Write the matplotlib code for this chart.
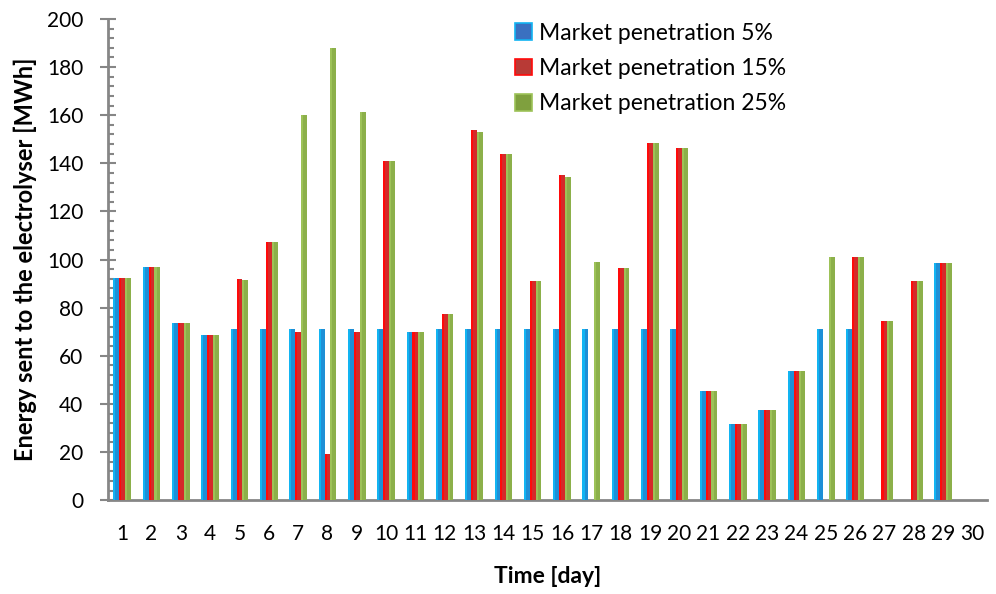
import numpy as np
import matplotlib
matplotlib.use("Agg")
from matplotlib import pyplot as plt
from matplotlib.patches import Patch
from matplotlib.ticker import MultipleLocator

days = list(range(1, 31))
pen_5 = [92.5, 97, 73.5, 68.5, 71, 71, 71, 71, 71, 71,
         70, 71, 71, 71, 71, 71, 71, 71, 71, 71,
         45.5, 31.5, 37.5, 53.5, 71, 71, 0, 0, 98.5, 0]
pen_15 = [92.5, 97, 73.5, 68.5, 92, 107.5, 70, 19, 70, 141,
          70, 77.5, 154, 144, 91, 135, 0, 96.5, 148.5, 146.5,
          45.5, 31.5, 37.5, 53.5, 0, 101, 74.5, 91, 98.5, 0]
pen_25 = [92.5, 97, 73.5, 68.5, 91.5, 107.5, 160, 188, 161.5, 141,
          70, 77.5, 153, 144, 91, 134.5, 99, 96.5, 148.5, 146.5,
          45.5, 31.5, 37.5, 53.5, 101, 101, 74.5, 91, 98.5, 0]
labels = ["Market penetration 5%", "Market penetration 15%", "Market penetration 25%"]

plt.rcParams['font.family'] = ['Lato', 'DejaVu Sans']

fig = plt.figure(figsize=(9.96, 5.94), dpi=100)
ax = fig.add_axes([0.108, 0.158, 0.883, 0.81])

x = np.array(days)
w = 0.2
series = [pen_5, pen_15, pen_25]
main_cols = ['#1e8fd6', '#d42a2a', '#8cb04a']
light_cols = ['#12b4f2', '#ff0a0a', '#9dc258']
for i, (vals, mc, lc) in enumerate(zip(series, main_cols, light_cols)):
    pos = x + (i - 1) * w
    ax.bar(pos, vals, width=w, color=mc, linewidth=0, zorder=3)
    # brighter strip on the left side, like the original's gradient fill
    ax.bar(pos - w / 2, vals, width=w * 0.35, align='edge', color=lc, linewidth=0, zorder=3)

ax.set_xlim(0.5, 30.5)
ax.set_ylim(0, 200)
ax.set_xticks(days)
ax.set_xticklabels([str(d) for d in days])
ax.yaxis.set_major_locator(MultipleLocator(20))
ax.yaxis.set_minor_locator(MultipleLocator(4))
ax.tick_params(axis='y', which='major', direction='inout', length=11, width=1.5,
               color='#868686', labelsize=15, pad=12)
ax.tick_params(axis='y', which='minor', direction='in', length=4.5, width=1.5, color='#868686')
ax.tick_params(axis='x', which='both', length=0, labelsize=15, pad=17)

for s in ['top', 'right']:
    ax.spines[s].set_visible(False)
for s in ['left', 'bottom']:
    ax.spines[s].set_color('#868686')
    ax.spines[s].set_linewidth(2)

ax.set_ylabel('Energy sent to the electrolyser [MWh]', fontsize=17, fontweight='bold', labelpad=7)
ax.set_xlabel('Time [day]', fontsize=16.5, fontweight='bold', labelpad=16)

handles = [Patch(facecolor='#3a70c0', edgecolor='#12b4f2', linewidth=1.2),
           Patch(facecolor='#b83a36', edgecolor='#ff0a0a', linewidth=1.2),
           Patch(facecolor='#7fa03e', edgecolor='#9dc258', linewidth=1.2)]
ax.legend(handles, labels, loc='upper left', bbox_to_anchor=(0.44, 1.035), frameon=False,
          fontsize=16.5, handlelength=0.75, handleheight=0.75, handletextpad=0.3, labelspacing=0.62)

fig.savefig('out.png', dpi=100)
